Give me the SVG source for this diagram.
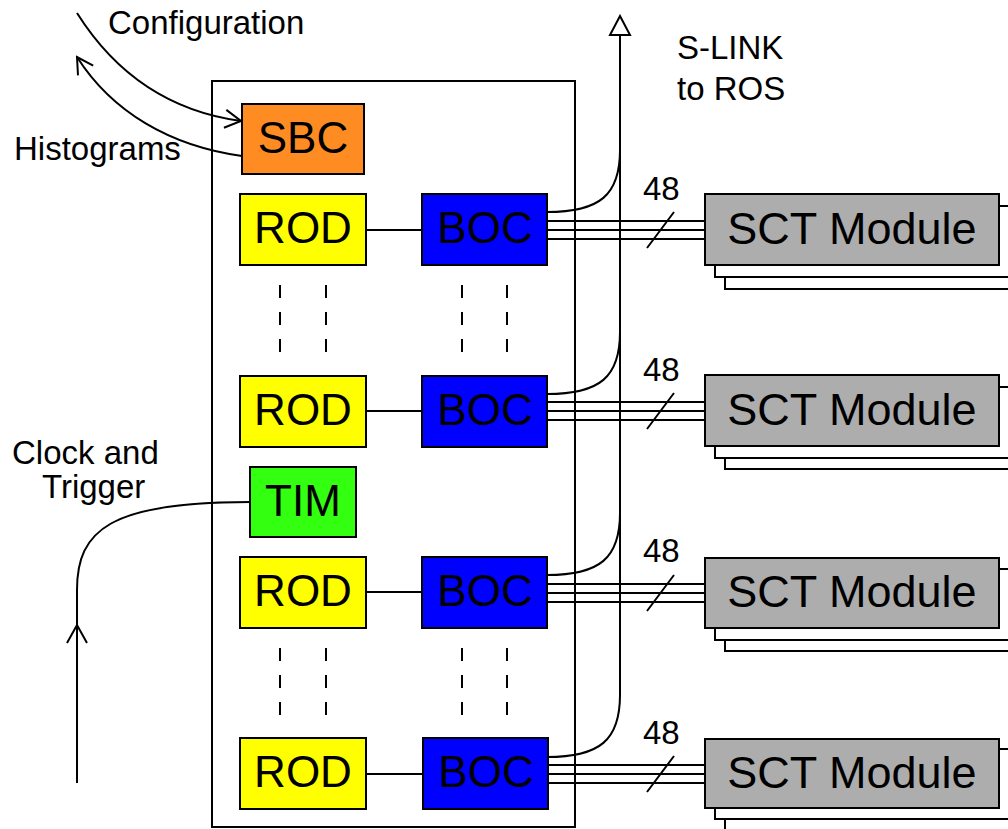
<svg xmlns="http://www.w3.org/2000/svg" width="1008" height="829" viewBox="0 0 1008 829">
  <style>
    .box { stroke: #000; stroke-width: 2; }
    .rod { fill: #FFFF00; }
    .boc { fill: #0000FF; }
    .sbc { fill: #FF8C22; }
    .tim { fill: #33FF11; }
    .sct { fill: #ADADAD; }
    .shadow { fill: #FFFFFF; }
    .lbl { font-family: "Liberation Sans", Arial, sans-serif; font-size: 44px; fill: #000; text-anchor: middle; }
    .txt { font-family: "Liberation Sans", Arial, sans-serif; font-size: 33px; fill: #000; }
    .line { fill: none; stroke: #000; stroke-width: 2; }
    .dash { fill: none; stroke: #000; stroke-width: 2; stroke-dasharray: 13 14; }
  </style>
  <defs>
    <marker id="openV" viewBox="0 0 20 20" refX="18" refY="10" markerWidth="20" markerHeight="20" markerUnits="userSpaceOnUse" orient="auto">
      <path d="M2,1 L18,10 L2,19" fill="none" stroke="#000" stroke-width="2"/>
    </marker>
    <marker id="openTri" viewBox="0 0 24 24" refX="12" refY="2" markerWidth="24" markerHeight="24" markerUnits="userSpaceOnUse" orient="0">
      <path d="M12,2 L22,21 L2,21 Z" fill="#FFF" stroke="#000" stroke-width="2"/>
    </marker>
  </defs>

  <!-- crate outline -->
  <rect x="212" y="81" width="363" height="746" fill="none" stroke="#000" stroke-width="2"/>

  <!-- connectors -->
  <g id="connectors">
    <!-- configuration in, histograms out -->
    <path class="line" d="M77,13 C118,78 175,112 241,121" marker-end="url(#openV)"/>
    <path class="line" d="M242,156 C170,146 112,112 77,57" marker-end="url(#openV)"/>
    <!-- clock and trigger to TIM -->
    <path class="line" d="M77,783 V590 C77,530 110,502 250,502"/>
    <path class="line" d="M67,643 L77,625 L87,643"/>
    <!-- S-LINK trunk -->
    <path class="line" d="M620,696 V16" marker-end="url(#openTri)"/>
    <path class="line" d="M547,212 C600,212 620,195 620,150"/>
    <path class="line" d="M547,394 C600,394 620,377 620,332"/>
    <path class="line" d="M547,575 C600,575 620,558 620,513"/>
    <path class="line" d="M547,757 C600,757 620,740 620,695"/>
    <!-- ROD to BOC -->
    <path class="line" d="M366,230 H422 M366,411 H422 M366,592 H422 M366,774 H422"/>
    <!-- fibre bundles BOC to modules -->
    <path class="line" d="M547,221 H705 M547,230 H705 M547,239 H705"/>
    <path class="line" d="M547,402 H705 M547,411 H705 M547,420 H705"/>
    <path class="line" d="M547,584 H705 M547,593 H705 M547,602 H705"/>
    <path class="line" d="M547,765 H705 M547,774 H705 M547,783 H705"/>
    <!-- bundle tick marks -->
    <path class="line" d="M647,248 L674,212 M647,429 L674,393 M647,611 L674,575 M647,792 L674,756"/>
    <!-- continuation dashes -->
    <path class="dash" d="M280,285 V355 M326,285 V355 M462,285 V355 M507,285 V355"/>
    <path class="dash" d="M280,648 V718 M326,648 V718 M462,648 V718 M507,648 V718"/>
  </g>

  <!-- bundle counts and link labels -->
  <text class="txt" x="643" y="200">48</text>
  <text class="txt" x="643" y="381">48</text>
  <text class="txt" x="643" y="562">48</text>
  <text class="txt" x="643" y="744">48</text>
  <text class="txt" x="108" y="34">Configuration</text>
  <text class="txt" x="14" y="160">Histograms</text>
  <text class="txt" x="12" y="464">Clock and</text>
  <text class="txt" x="42" y="498">Trigger</text>
  <text class="txt" x="677" y="59">S-LINK</text>
  <text class="txt" x="677" y="100">to ROS</text>

  <g id="sbc">
    <rect class="box sbc" x="242" y="104" width="122" height="70"/>
    <text class="lbl" x="303" y="153">SBC</text>
  </g>
  <g id="tim">
    <rect class="box tim" x="250" y="467" width="106" height="70"/>
    <text class="lbl" x="303" y="516">TIM</text>
  </g>

  <g id="rod1"><rect class="box rod" x="240" y="194" width="126" height="71"/><text class="lbl" x="303" y="243">ROD</text></g>
  <g id="rod2"><rect class="box rod" x="240" y="376" width="126" height="71"/><text class="lbl" x="303" y="425">ROD</text></g>
  <g id="rod3"><rect class="box rod" x="240" y="557" width="126" height="71"/><text class="lbl" x="303" y="606">ROD</text></g>
  <g id="rod4"><rect class="box rod" x="240" y="738" width="126" height="71"/><text class="lbl" x="303" y="787">ROD</text></g>

  <g id="boc1"><rect class="box boc" x="422" y="194" width="125" height="71"/><text class="lbl" x="485" y="243">BOC</text></g>
  <g id="boc2"><rect class="box boc" x="422" y="376" width="125" height="71"/><text class="lbl" x="485" y="425">BOC</text></g>
  <g id="boc3"><rect class="box boc" x="422" y="557" width="125" height="71"/><text class="lbl" x="485" y="606">BOC</text></g>
  <g id="boc4"><rect class="box boc" x="423" y="738" width="125" height="71"/><text class="lbl" x="486" y="787">BOC</text></g>

  <g id="sct1">
    <rect class="box shadow" x="725" y="218" width="294" height="71"/>
    <rect class="box shadow" x="715" y="206" width="294" height="71"/>
    <rect class="box sct" x="705" y="194" width="294" height="71"/>
    <text class="lbl" x="852" y="244" style="font-size:45px">SCT Module</text>
  </g>
  <g id="sct2">
    <rect class="box shadow" x="725" y="398" width="294" height="71"/>
    <rect class="box shadow" x="715" y="387" width="294" height="71"/>
    <rect class="box sct" x="705" y="375" width="294" height="71"/>
    <text class="lbl" x="852" y="425" style="font-size:45px">SCT Module</text>
  </g>
  <g id="sct3">
    <rect class="box shadow" x="725" y="580" width="294" height="71"/>
    <rect class="box shadow" x="715" y="569" width="294" height="71"/>
    <rect class="box sct" x="705" y="558" width="294" height="70"/>
    <text class="lbl" x="852" y="607" style="font-size:45px">SCT Module</text>
  </g>
  <g id="sct4">
    <rect class="box shadow" x="725" y="760" width="294" height="71"/>
    <rect class="box shadow" x="715" y="749" width="294" height="70"/>
    <rect class="box sct" x="705" y="739" width="294" height="69"/>
    <text class="lbl" x="852" y="788" style="font-size:45px">SCT Module</text>
  </g>
</svg>
